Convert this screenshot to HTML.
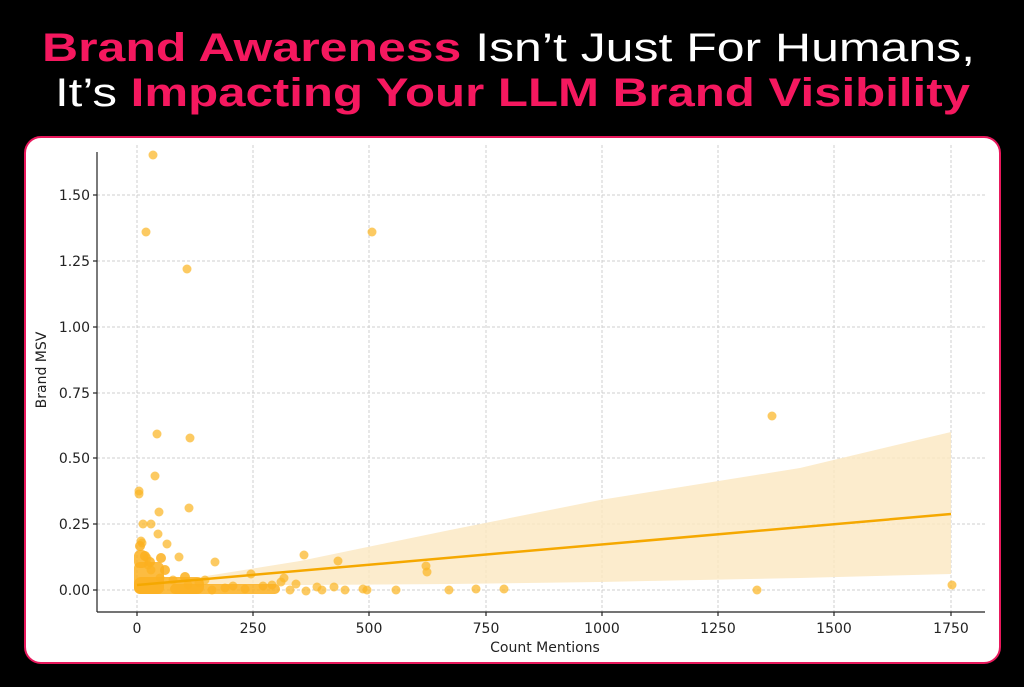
<!DOCTYPE html>
<html><head><meta charset="utf-8"><style>
html,body{margin:0;padding:0;background:#000;}
svg{display:block}
</style></head><body>
<svg width="1024" height="687" viewBox="0 0 1024 687" xmlns="http://www.w3.org/2000/svg">
<rect width="1024" height="687" fill="#000"/>
<g font-family="Liberation Sans, sans-serif" font-weight="bold" font-size="40">
<text x="42" y="61" textLength="933" lengthAdjust="spacingAndGlyphs"><tspan fill="#f5185f">Brand Awareness</tspan><tspan fill="#fff" font-weight="normal"> Isn’t Just For Humans,</tspan></text>
<text x="55" y="106" textLength="915" lengthAdjust="spacingAndGlyphs"><tspan fill="#fff" font-weight="normal">It’s </tspan><tspan fill="#f5185f">Impacting Your LLM Brand Visibility</tspan></text>
</g>
<rect x="25" y="137" width="975" height="526" rx="16" fill="#fff" stroke="#e8185c" stroke-width="2"/>
<g stroke="#cfcfcf" stroke-width="1" stroke-dasharray="3,2">
<line x1="137" y1="145" x2="137" y2="612"/><line x1="253" y1="145" x2="253" y2="612"/>
<line x1="369" y1="145" x2="369" y2="612"/><line x1="486" y1="145" x2="486" y2="612"/>
<line x1="602" y1="145" x2="602" y2="612"/><line x1="718" y1="145" x2="718" y2="612"/>
<line x1="834" y1="145" x2="834" y2="612"/><line x1="951" y1="145" x2="951" y2="612"/>
<line x1="97" y1="590" x2="985" y2="590"/><line x1="97" y1="524" x2="985" y2="524"/>
<line x1="97" y1="458" x2="985" y2="458"/><line x1="97" y1="393" x2="985" y2="393"/>
<line x1="97" y1="327" x2="985" y2="327"/><line x1="97" y1="261" x2="985" y2="261"/>
<line x1="97" y1="195" x2="985" y2="195"/>
</g>
<polygon points="137,585 200,577 300,561 450,530 600,500 800,468 951,432 951,574 800,578 600,582 450,584 300,585 200,585 137,584" fill="#fbe7c0" opacity="0.8"/>
<g fill="#fbb526" fill-opacity="0.72">
<circle cx="153" cy="155" r="4.5"/><circle cx="146" cy="232" r="4.5"/><circle cx="187" cy="269" r="4.5"/>
<circle cx="372" cy="232" r="4.5"/><circle cx="772" cy="416" r="4.5"/><circle cx="157" cy="434" r="4.5"/>
<circle cx="190" cy="438" r="4.5"/><circle cx="155" cy="476" r="4.5"/><circle cx="139" cy="491" r="4.5"/>
<circle cx="139" cy="494" r="4.5"/><circle cx="189" cy="508" r="4.5"/><circle cx="159" cy="512" r="4.5"/>
<circle cx="143" cy="524" r="4.5"/><circle cx="151" cy="524" r="4.5"/><circle cx="158" cy="534" r="4.5"/>
<circle cx="167" cy="544" r="4.5"/><circle cx="141" cy="541" r="4.5"/><circle cx="142" cy="543" r="4.5"/>
<circle cx="179" cy="557" r="4.5"/><circle cx="215" cy="562" r="4.5"/><circle cx="304" cy="555" r="4.5"/>
<circle cx="338" cy="561" r="4.5"/><circle cx="251" cy="574" r="4.5"/><circle cx="426" cy="566" r="4.5"/>
<circle cx="427" cy="572" r="4.5"/><circle cx="334" cy="587" r="4.5"/><circle cx="363" cy="589" r="4.5"/>
<circle cx="449" cy="590" r="4.5"/><circle cx="476" cy="589" r="4.5"/><circle cx="504" cy="589" r="4.5"/>
<circle cx="757" cy="590" r="4.5"/><circle cx="952" cy="585" r="4.5"/><circle cx="306" cy="591" r="4.5"/>
<circle cx="317" cy="587" r="4.5"/><circle cx="263" cy="586" r="4.5"/><circle cx="281" cy="582" r="4.5"/>
<circle cx="147" cy="558" r="4.5"/><circle cx="148" cy="565" r="4.5"/><circle cx="151" cy="570" r="4.5"/>
<circle cx="160" cy="578" r="4.5"/><circle cx="173" cy="580" r="4.5"/><circle cx="205" cy="580" r="4.5"/>
<circle cx="199" cy="583" r="4.5"/><circle cx="188" cy="585" r="4.5"/><circle cx="284" cy="578" r="4.5"/>
<circle cx="272" cy="585" r="4.5"/><circle cx="296" cy="584" r="4.5"/><circle cx="233" cy="586" r="4.5"/>
<circle cx="225" cy="588" r="4.5"/><circle cx="245" cy="589" r="4.5"/><circle cx="290" cy="590" r="4.5"/>
<circle cx="367" cy="590" r="4.5"/><circle cx="212" cy="590" r="4.5"/>
<circle cx="322" cy="590" r="4.5"/><circle cx="345" cy="590" r="4.5"/><circle cx="396" cy="590" r="4.5"/>
</g>
<g fill="#fbb020" fill-opacity="0.85">
<rect x="134" y="562" width="30" height="32" rx="6"/>
<rect x="134" y="577" width="70" height="17" rx="7"/>
<rect x="170" y="584" width="110" height="10" rx="5"/>
<rect x="134" y="550" width="14" height="18" rx="6"/>
<circle cx="145" cy="556" r="5"/><circle cx="150" cy="562" r="5"/><circle cx="165" cy="570" r="5"/>
<circle cx="185" cy="577" r="5"/><circle cx="140" cy="546" r="5"/><circle cx="161" cy="558" r="5"/>
</g>
<line x1="137" y1="585" x2="951" y2="514" stroke="#f5a800" stroke-width="2.5"/>
<g stroke="#222" stroke-width="1.2">
<line x1="97" y1="152" x2="97" y2="612"/><line x1="97" y1="612" x2="985" y2="612"/>
<line x1="93" y1="590" x2="97" y2="590"/><line x1="93" y1="524" x2="97" y2="524"/>
<line x1="93" y1="458" x2="97" y2="458"/><line x1="93" y1="393" x2="97" y2="393"/>
<line x1="93" y1="327" x2="97" y2="327"/><line x1="93" y1="261" x2="97" y2="261"/>
<line x1="93" y1="195" x2="97" y2="195"/>
<line x1="137" y1="612" x2="137" y2="616"/><line x1="253" y1="612" x2="253" y2="616"/>
<line x1="369" y1="612" x2="369" y2="616"/><line x1="486" y1="612" x2="486" y2="616"/>
<line x1="602" y1="612" x2="602" y2="616"/><line x1="718" y1="612" x2="718" y2="616"/>
<line x1="834" y1="612" x2="834" y2="616"/><line x1="951" y1="612" x2="951" y2="616"/>
</g>
<g font-family="DejaVu Sans, sans-serif" font-size="14" fill="#222">
<g text-anchor="end">
<text x="90" y="595">0.00</text><text x="90" y="529">0.25</text><text x="90" y="463">0.50</text>
<text x="90" y="398">0.75</text><text x="90" y="332">1.00</text><text x="90" y="266">1.25</text>
<text x="90" y="200">1.50</text>
</g>
<g text-anchor="middle">
<text x="137" y="633">0</text><text x="253" y="633">250</text><text x="369" y="633">500</text>
<text x="486" y="633">750</text><text x="602" y="633">1000</text><text x="718" y="633">1250</text>
<text x="834" y="633">1500</text><text x="951" y="633">1750</text>
<text x="545" y="652">Count Mentions</text>
<text transform="translate(46,370) rotate(-90)">Brand MSV</text>
</g>
</g>
</svg>
</body></html>
